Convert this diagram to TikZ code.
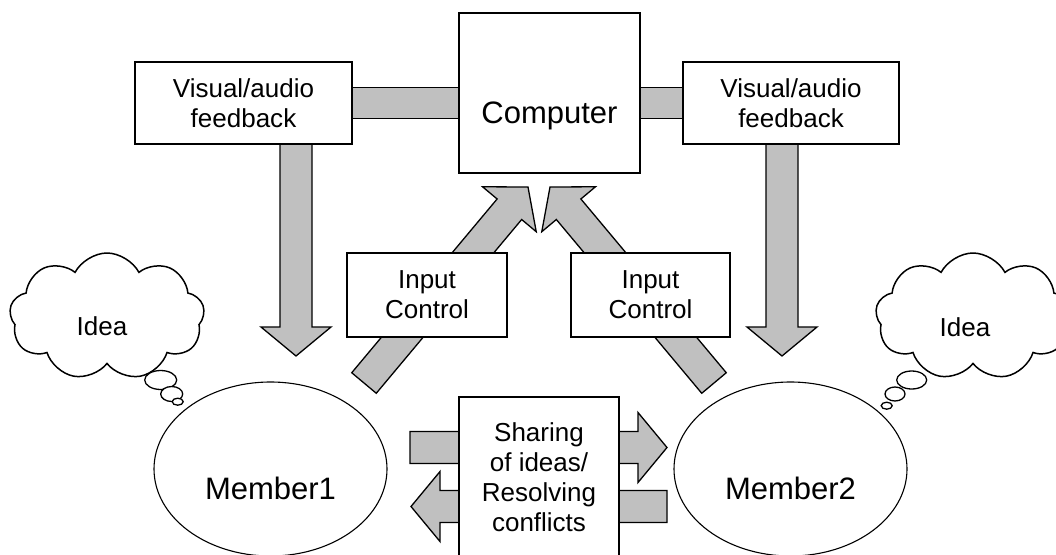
\documentclass[tikz,border=0pt]{standalone}
\usepackage{fontspec}
\setmainfont{Liberation Sans}
\usetikzlibrary{calc,shapes.geometric,shapes.symbols,backgrounds}
\definecolor{silverfill}{HTML}{C0C0C0}

% Block arrow from tail #1 to tip #2: shaft 32pt wide, head 70pt wide and 29pt long
\newcommand\blockarrow[2]{%
  \coordinate (neck) at ($(#2)!29pt!(#1)$);
  \draw[fatarrow] ($(#1)!16pt!90:(#2)$) -- ($(neck)!16pt!90:(#2)$)
    -- ($(neck)!35pt!90:(#2)$) -- (#2) -- ($(neck)!35pt!-90:(#2)$)
    -- ($(neck)!16pt!-90:(#2)$) -- ($(#1)!16pt!-90:(#2)$) -- cycle;}

\begin{document}
\begin{tikzpicture}[x=1pt,y=-1pt,
  box/.style={draw, line width=1.3pt, fill=white, inner sep=0pt, align=center},
  fatarrow/.style={draw, line width=1.3pt, fill=silverfill, line join=miter},
  txt/.style={font=\fontsize{26}{30}\selectfont},
  bigtxt/.style={font=\fontsize{31}{36}\selectfont},
  member/.style={ellipse, draw, line width=1.1pt, fill=white, minimum width=233pt,
    minimum height=174pt, inner sep=0pt, text height=60pt, text depth=0pt, bigtxt},
  thought/.style={cloud, draw, line width=1.5pt, fill=white, cloud puffs=9,
    cloud puff arc=125, aspect=1.54, minimum width=195pt, minimum height=127pt, inner sep=0pt},
  bubble/.style={ellipse, draw, line width=1.3pt, fill=white, inner sep=0pt},
  bar/.style={line width=1.3pt, double=silverfill, double distance=29.7pt}
]
\path[use as bounding box, clip] (0,0) rectangle (1056,554);

% boxes
\node[box, bigtxt, minimum width=181pt, minimum height=160pt, text height=66pt, text depth=6pt]
  (comp) at (549.5,93) {Computer};
\node[box, txt, minimum width=217pt, minimum height=82pt] (fbL) at (243.5,103) {Visual/audio\\feedback};
\node[box, txt, minimum width=216pt, minimum height=82pt] (fbR) at (791,103) {Visual/audio\\feedback};
\node[box, txt, minimum width=160pt, minimum height=84pt] (inL) at (427,295) {Input\\Control};
\node[box, txt, minimum width=159pt, minimum height=84pt] (inR) at (650.5,295) {Input\\Control};
\node[box, txt, minimum width=160pt, minimum height=161pt] (share) at (539,477.5)
  {Sharing\\of ideas/\\Resolving\\conflicts};

% group members
\node[member] (m1) at (270.5,469) {Member1};
\node[member] (m2) at (790.5,469) {Member2};

% thought clouds
\node[thought] (cL) at (107,316.5) {};
\node[txt] (ideaL) at (102,326) {Idea};
\node[bubble, minimum width=32pt, minimum height=19pt] (bL1) at (160.7,380) {};
\node[bubble, minimum width=22pt, minimum height=15pt] (bL2) at (171.7,394) {};
\node[bubble, minimum width=11pt, minimum height=7pt] (bL3) at (177.7,401.7) {};

\node[thought] (cR) at (973,316.5) {};
\node[txt] (ideaR) at (965,327) {Idea};
\node[bubble, minimum width=30pt, minimum height=18pt] (bR1) at (911.7,380) {};
\node[bubble, minimum width=20pt, minimum height=14pt] (bR2) at (895,394) {};
\node[bubble, minimum width=11pt, minimum height=7pt] (bR3) at (886.7,405.7) {};

% links and arrows behind the boxes
\begin{scope}[on background layer]
  \draw[bar] (fbL.east) -- (fbL.east -| comp.west);
  \draw[bar] (comp.east |- fbR.west) -- (fbR.west);

  \coordinate (fbLout) at (296,140);  \coordinate (m1in) at (296,356);
  \coordinate (fbRout) at (782,140);  \coordinate (m2in) at (782,356);
  \blockarrow{fbLout}{m1in}
  \blockarrow{fbRout}{m2in}

  \coordinate (m1out) at (364,383);   \coordinate (compinL) at (528,187);
  \coordinate (m2out) at (714,383);   \coordinate (compinR) at (550,187);
  \blockarrow{m1out}{compinL}
  \blockarrow{m2out}{compinR}

  \coordinate (toM2s) at (410,447.5); \coordinate (toM2e) at (667,447.5);
  \coordinate (toM1s) at (667,506.5); \coordinate (toM1e) at (411,506.5);
  \blockarrow{toM2s}{toM2e}
  \blockarrow{toM1s}{toM1e}
\end{scope}
\end{tikzpicture}
\end{document}
